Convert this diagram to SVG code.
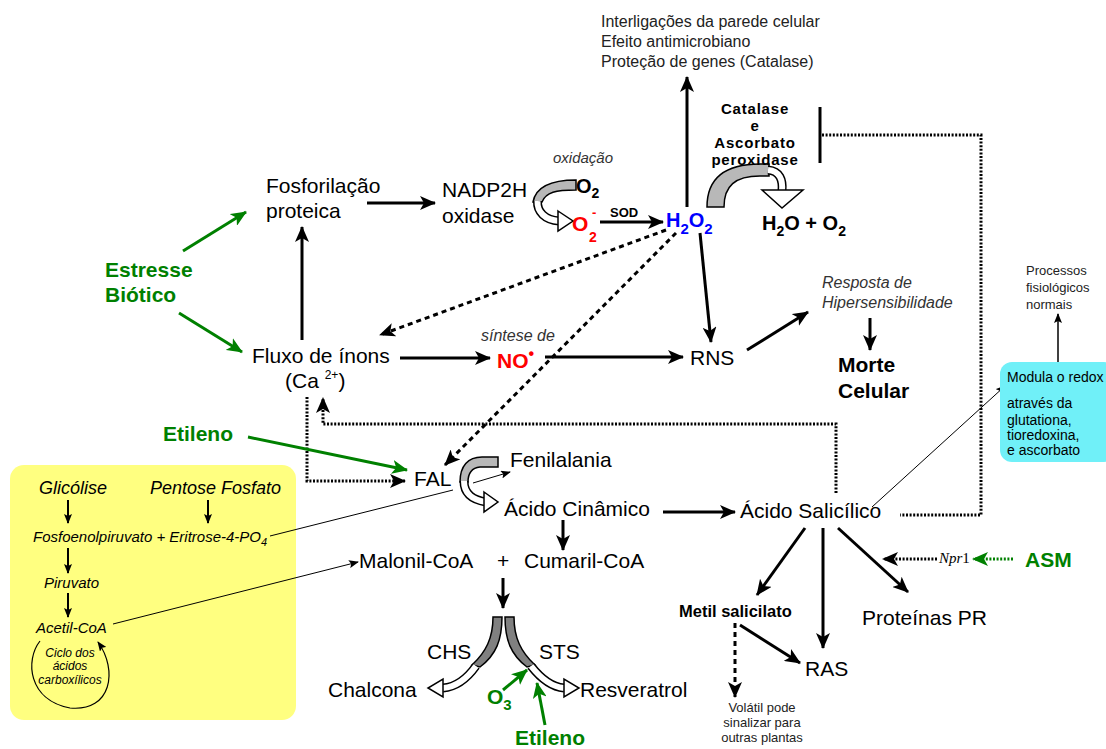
<svg xmlns="http://www.w3.org/2000/svg" width="1106" height="749" viewBox="0 0 1106 749">
<defs>
<style>
text{font-family:"Liberation Sans",Arial,sans-serif;fill:#000}
.b{font-size:21px}
.bd{font-weight:bold}
.it{font-style:italic}
.gr{fill:#008000;font-weight:bold;font-size:21px}
.sm{font-size:16px;fill:#222}
.ln{stroke:#000;stroke-width:3;fill:none}
.thin{stroke:#000;stroke-width:1;fill:none}
.g{stroke:#008000;stroke-width:3;fill:none}
.dot{stroke:#000;stroke-width:3;fill:none;stroke-dasharray:2 1.6}
.dash{stroke:#000;stroke-width:3;fill:none;stroke-dasharray:5 4}
.wo{stroke:#000;stroke-width:9;fill:none}
.wi{stroke:#fff;stroke-width:6;fill:none}
.wh{fill:#fff;stroke:#000;stroke-width:1.5}
.band{fill:#b8b8b8;stroke:#000;stroke-width:1.5}
.band2{fill:#808080;stroke:#000;stroke-width:1.5}
.cat{font-weight:bold;font-size:15px;letter-spacing:0.8px}
</style>
<marker id="a" markerUnits="userSpaceOnUse" markerWidth="16" markerHeight="14" refX="15" refY="7" orient="auto"><path d="M0,0 L16,7 L0,14 L4,7 Z" fill="#000"/></marker>
<marker id="ag" markerUnits="userSpaceOnUse" markerWidth="16" markerHeight="14" refX="15" refY="7" orient="auto"><path d="M0,0 L16,7 L0,14 L4,7 Z" fill="#008000"/></marker>
<marker id="at" markerUnits="userSpaceOnUse" markerWidth="10" markerHeight="8" refX="9" refY="4" orient="auto"><path d="M0,0 L10,4 L0,8 L2,4 Z" fill="#000"/></marker>
</defs>
<rect width="1106" height="749" fill="#fff"/>

<g id="metabolism-box">
<rect x="10" y="465" width="286" height="255" rx="14" fill="#ffff80"/>
<text class="it" x="39" y="494" font-size="18">Glicólise</text>
<text class="it" x="150" y="494" font-size="18">Pentose Fosfato</text>
<text class="it" x="33" y="542" font-size="15">Fosfoenolpiruvato + Eritrose-4-PO<tspan dy="4" font-size="11">4</tspan></text>
<text class="it" x="44" y="588" font-size="15">Piruvato</text>
<text class="it" x="36" y="633" font-size="15">Acetil-CoA</text>
<text class="it" x="70" y="657" font-size="12" text-anchor="middle">Ciclo dos</text>
<text class="it" x="70" y="670" font-size="12" text-anchor="middle">ácidos</text>
<text class="it" x="70" y="684" font-size="12" text-anchor="middle">carboxílicos</text>
<path d="M40,641 C25,660 28,700 70,708 C112,712 118,670 98,642" stroke="#000" stroke-width="1.2" fill="none" marker-end="url(#at)"/>
<line x1="68" y1="500" x2="68" y2="523" stroke="#000" stroke-width="2" marker-end="url(#at)"/>
<line x1="208" y1="500" x2="208" y2="523" stroke="#000" stroke-width="2" marker-end="url(#at)"/>
<line x1="68" y1="548" x2="68" y2="573" stroke="#000" stroke-width="2" marker-end="url(#at)"/>
<line x1="68" y1="593" x2="68" y2="617" stroke="#000" stroke-width="2" marker-end="url(#at)"/>
</g>

<g id="connectors">
<line class="ln" x1="687" y1="207" x2="687" y2="77" marker-end="url(#a)"/>
<line class="ln" x1="820" y1="107" x2="820" y2="163"/>
<polyline class="dot" points="822,135 981,135 981,515 900,515"/>
<line class="ln" x1="367" y1="203" x2="435" y2="203" marker-end="url(#a)"/>
<line class="ln" x1="600" y1="222" x2="663" y2="222" marker-end="url(#a)"/>
<line class="ln" x1="302" y1="340" x2="302" y2="227" marker-end="url(#a)"/>
<line class="g" x1="183" y1="251" x2="246" y2="212" marker-end="url(#ag)"/>
<line class="g" x1="179" y1="313" x2="242" y2="352" marker-end="url(#ag)"/>
<line class="ln" x1="400" y1="358" x2="490" y2="358" marker-end="url(#a)"/>
<line class="ln" x1="545" y1="357" x2="683" y2="357" marker-end="url(#a)"/>
<line class="dash" x1="666" y1="230" x2="380" y2="335" marker-end="url(#a)"/>
<line class="dash" x1="676" y1="233" x2="445" y2="465" marker-end="url(#a)"/>
<line class="ln" x1="700" y1="233" x2="711" y2="342" marker-end="url(#a)"/>
<line class="ln" x1="747" y1="350" x2="808" y2="312" marker-end="url(#a)"/>
<line class="ln" x1="870" y1="318" x2="870" y2="350" marker-end="url(#a)"/>
<polyline class="dot" points="836,493 836,424 323,424 323,398" marker-end="url(#a)"/>
<polyline class="dot" points="307,397 307,481 405,481" marker-end="url(#a)"/>
<line class="g" x1="248" y1="437" x2="407" y2="470" marker-end="url(#ag)"/>
<polyline class="thin" points="270,536 453,490"/>
<line class="thin" x1="473" y1="483" x2="510" y2="472" marker-end="url(#at)"/>
<line class="thin" x1="113" y1="624" x2="358" y2="562" marker-end="url(#at)"/>
<line class="thin" x1="872" y1="507" x2="1005" y2="386" marker-end="url(#at)"/>
<line x1="1058" y1="367" x2="1058" y2="314" stroke="#000" stroke-width="1.5" marker-end="url(#at)"/>
<line class="ln" x1="663" y1="512" x2="735" y2="512" marker-end="url(#a)"/>
<line class="ln" x1="563" y1="520" x2="563" y2="550" marker-end="url(#a)"/>
<line class="ln" x1="503" y1="578" x2="503" y2="608" marker-end="url(#a)"/>
<line class="ln" x1="805" y1="528" x2="757" y2="595" marker-end="url(#a)"/>
<line class="ln" x1="823" y1="528" x2="823" y2="648" marker-end="url(#a)"/>
<line class="ln" x1="838" y1="528" x2="908" y2="592" marker-end="url(#a)"/>
<line class="dot" x1="937" y1="559" x2="883" y2="559" marker-end="url(#a)"/>
<line class="dot" x1="1013" y1="559" x2="973" y2="559" style="stroke:#008000" marker-end="url(#ag)"/>
<line class="ln" x1="740" y1="625" x2="800" y2="663" marker-end="url(#a)"/>
<line class="dash" x1="735" y1="623" x2="735" y2="697" marker-end="url(#a)"/>
<line class="g" x1="503" y1="690" x2="527" y2="670" marker-end="url(#ag)"/>
<line class="g" x1="545" y1="725" x2="537" y2="683" marker-end="url(#ag)"/>
<path class="band" d="M576,180 L576,190 C556,190 546,192 542,202 L533,202 C536,186 552,180 576,180 Z"/>
<path class="wo" d="M537.5,201 C537,212 545,220 559,221"/>
<path class="wi" d="M537.5,201 C537,212 545,220 559,221"/>
<polygon class="wh" points="558,211 573,221 558,231"/>
<path class="band" d="M707,207 C707,178 725,164 760,164 L769,164 L769,176 L760,176 C735,176 724,186 724,207 Z"/>
<path class="wo" d="M768,170 C780,171 783,180 782,191"/>
<path class="wi" d="M768,170 C780,171 783,180 782,191"/>
<polygon class="wh" points="762,190 803,190 782,208"/>
<path class="band" d="M498,457 L498,467 L480,467 C471,468 468,474 468,482 L460,482 C460,466 468,457 482,457 Z"/>
<path class="wo" d="M464,481 C464,495 474,500 486,502"/>
<path class="wi" d="M464,481 C464,495 474,500 486,502"/>
<polygon class="wh" points="484,492 498,502 484,512"/>
<path class="band2" d="M493,617 L502,617 C502,640 496,655 480,667 L472,665 C486,652 493,638 493,617 Z"/>
<path class="band2" d="M505,617 L514,617 C514,638 521,652 535,665 L527,667 C511,655 505,640 505,617 Z"/>
<path class="wo" d="M476,666 C466,680 456,687 443,688"/>
<path class="wi" d="M476,666 C466,680 456,687 443,688"/>
<polygon class="wh" points="443,679 443,697 428,688"/>
<path class="wo" d="M531,666 C542,680 552,687 564,688"/>
<path class="wi" d="M531,666 C542,680 552,687 564,688"/>
<polygon class="wh" points="564,679 564,697 579,688"/>
</g>

<g id="top-effects">
<text class="sm" x="601" y="27">Interligações da parede celular</text>
<text class="sm" x="601" y="47">Efeito antimicrobiano</text>
<text class="sm" x="601" y="67">Proteção de genes (Catalase)</text>
</g>
<g id="catalase">
<text class="cat" x="755" y="114" text-anchor="middle">Catalase</text>
<text class="cat" x="755" y="131" text-anchor="middle">e</text>
<text class="cat" x="755" y="148" text-anchor="middle">Ascorbato</text>
<text class="cat" x="755" y="165" text-anchor="middle">peroxidase</text>
</g>
<g id="h2o-o2"><text class="bd" x="762" y="230" font-size="20">H<tspan dy="6" font-size="14">2</tspan><tspan dy="-6">O + O</tspan><tspan dy="6" font-size="14">2</tspan></text></g>
<g id="h2o2"><text class="bd" x="666" y="227" font-size="20" style="fill:#0000ff">H<tspan dy="7" font-size="15">2</tspan><tspan dy="-7">O</tspan><tspan dy="7" font-size="15">2</tspan></text></g>
<g id="sod"><text class="bd" x="610" y="217" font-size="13">SOD</text></g>
<g id="o2"><text class="bd" x="576" y="193" font-size="20">O<tspan dy="5" font-size="14">2</tspan></text></g>
<g id="o2-radical">
<text class="bd" x="572" y="231" font-size="21" style="fill:#ff0000">O</text>
<text class="bd" x="589" y="242" font-size="14" style="fill:#ff0000">2</text>
<text class="bd" x="592" y="217" font-size="13" style="fill:#ff0000">-</text>
</g>
<g id="oxidacao"><text class="it" x="553" y="163" font-size="15" style="fill:#333">oxidação</text></g>
<g id="nadph"><text class="b" x="442" y="197">NADP2H</text><text class="b" x="442" y="223">oxidase</text></g>
<g id="fosforilacao"><text class="b" x="266" y="193">Fosforilação</text><text class="b" x="266" y="218">proteica</text></g>
<g id="estresse"><text class="gr" x="105" y="277">Estresse</text><text class="gr" x="105" y="302">Biótico</text></g>
<g id="fluxo"><text class="b" x="252" y="363">Fluxo de ínons</text><text class="b" x="285" y="388">(Ca <tspan dy="-9" font-size="12">2+</tspan><tspan dy="9">)</tspan></text></g>
<g id="no"><text class="it" x="481" y="341" font-size="16" style="fill:#333">síntese de</text><text class="bd" x="497" y="368" font-size="21" style="fill:#ff0000">NO<tspan dy="-9" font-size="16">•</tspan></text></g>
<g id="rns"><text class="b" x="690" y="365">RNS</text></g>
<g id="resposta"><text class="it" x="822" y="288" font-size="16" style="fill:#333">Resposta de</text><text class="it" x="822" y="308" font-size="16" style="fill:#333">Hipersensibilidade</text></g>
<g id="morte"><text class="bd" x="838" y="372" font-size="21">Morte</text><text class="bd" x="838" y="398" font-size="21">Celular</text></g>
<g id="etileno1"><text class="gr" x="163" y="441">Etileno</text></g>
<g id="fal"><text class="b" x="414" y="486">FAL</text></g>
<g id="fenilalania"><text class="b" x="510" y="467">Fenilalania</text></g>
<g id="cinamico"><text class="b" x="504" y="516">Ácido Cinâmico</text></g>
<g id="salicilico"><text class="b" x="740" y="518">Ácido Salicílico</text></g>
<g id="malonil"><text class="b" x="359" y="568">Malonil-CoA</text><text class="b" x="497" y="568">+</text><text class="b" x="524" y="568">Cumaril-CoA</text></g>
<g id="chs"><text class="b" x="427" y="659">CHS</text></g>
<g id="sts"><text class="b" x="539" y="659">STS</text></g>
<g id="chalcona"><text class="b" x="328" y="697">Chalcona</text></g>
<g id="resveratrol"><text class="b" x="580" y="697">Resveratrol</text></g>
<g id="o3"><text class="gr" x="487" y="704">O<tspan dy="6" font-size="15">3</tspan></text></g>
<g id="etileno2"><text class="gr" x="515" y="745">Etileno</text></g>
<g id="metil"><text class="bd" x="679" y="617" font-size="16.5">Metil salicilato</text></g>
<g id="volatil">
<text x="762" y="712" font-size="13" text-anchor="middle" style="fill:#222">Volátil pode</text>
<text x="762" y="727" font-size="13" text-anchor="middle" style="fill:#222">sinalizar para</text>
<text x="762" y="742" font-size="13" text-anchor="middle" style="fill:#222">outras plantas</text>
</g>
<g id="ras"><text class="b" x="805" y="676">RAS</text></g>
<g id="pr"><text class="b" x="862" y="625">Proteínas PR</text></g>
<g id="npr1"><text x="939" y="563" font-size="15" style="font-family:'Liberation Serif',serif;font-style:italic">Npr<tspan font-style="normal">1</tspan></text></g>
<g id="asm"><text class="gr" x="1025" y="567">ASM</text></g>
<g id="redox">
<rect x="1000" y="362" width="116" height="100" rx="12" fill="#70f0f8"/>
<text x="1007" y="382" font-size="14">Modula o redox</text>
<text x="1007" y="408" font-size="14">através da</text>
<text x="1007" y="425" font-size="14">glutationa,</text>
<text x="1007" y="440" font-size="14">tioredoxina,</text>
<text x="1007" y="455" font-size="14">e ascorbato</text>
</g>
<g id="processos">
<text x="1026" y="275" font-size="13" style="fill:#222">Processos</text>
<text x="1026" y="292" font-size="13" style="fill:#222">fisiológicos</text>
<text x="1026" y="309" font-size="13" style="fill:#222">normais</text>
</g>
</svg>
